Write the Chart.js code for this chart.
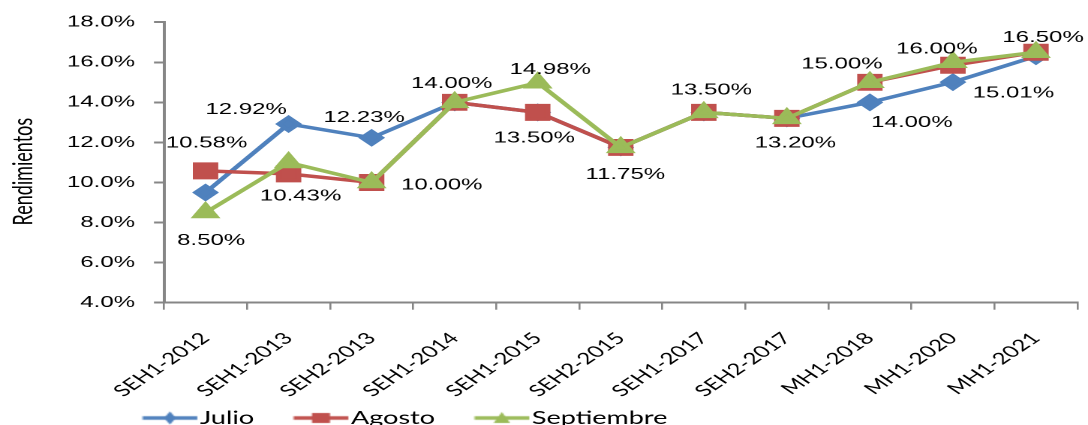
<!DOCTYPE html>
<html>
<head>
<meta charset="utf-8">
<script src="https://cdn.jsdelivr.net/npm/chart.js@4.4.1/dist/chart.umd.min.js"></script>
<style>
  html, body { margin: 0; padding: 0; background: #fff; }
  #chart { display: block; }
</style>
</head>
<body>
<!-- drawn narrow and stretched sideways, like the source picture -->
<canvas id="chart" width="725" height="425" style="width:1088px;height:425px"></canvas>
<script>
var categories = ['SEH1-2012', 'SEH1-2013', 'SEH2-2013', 'SEH1-2014', 'SEH1-2015', 'SEH2-2015',
    'SEH1-2017', 'SEH2-2017', 'MH1-2018', 'MH1-2020', 'MH1-2021'];
var julio = [9.50, 12.92, 12.23, 14.00, 13.50, 11.75, 13.50, 13.20, 14.00, 15.01, 16.30];
var agosto = [10.58, 10.43, 10.00, 14.00, 13.50, 11.75, 13.50, 13.20, 15.00, 15.85, 16.50];
var septiembre = [8.50, 11.00, 10.00, 14.00, 14.98, 11.75, 13.50, 13.20, 15.00, 16.00, 16.50];
var yTicks = [4, 6, 8, 10, 12, 14, 16, 18];

var colors = { julio: '#4F81BD', agosto: '#C0504D', septiembre: '#9BBB59' };
var axisColor = '#868686';

// which point gets a value label, and where it sits relative to the point
var labelSpots = [
    { ds: 1, i: 0, dx: 0.7, dy: -28 }, { ds: 0, i: 1, dx: -28.3, dy: -14.5 },
    { ds: 0, i: 2, dx: -5, dy: -20 }, { ds: 1, i: 1, dx: 8, dy: 22 },
    { ds: 2, i: 0, dx: 3.7, dy: 28 }, { ds: 1, i: 2, dx: 46.7, dy: 2.5 },
    { ds: 2, i: 3, dx: -2, dy: -18.5 }, { ds: 2, i: 4, dx: 8.3, dy: -13 },
    { ds: 1, i: 4, dx: -2.3, dy: 25.5 }, { ds: 2, i: 5, dx: 3, dy: 27 },
    { ds: 2, i: 6, dx: 5, dy: -22.5 }, { ds: 2, i: 7, dx: 5.7, dy: 24.5 },
    { ds: 2, i: 8, dx: -18.7, dy: -18 }, { ds: 0, i: 8, dx: 28, dy: 20.5 },
    { ds: 2, i: 9, dx: -10.7, dy: -13 }, { ds: 0, i: 9, dx: 40.3, dy: 11 },
    { ds: 2, i: 10, dx: 4.7, dy: -14.5 }
];

function legendIcon(color, shape) {
    var c = document.createElement('canvas');
    c.width = 74; c.height = 20;
    var g = c.getContext('2d');
    g.strokeStyle = color; g.fillStyle = color; g.lineWidth = 3.5;
    g.beginPath(); g.moveTo(22.5, 10); g.lineTo(59, 10); g.stroke();
    var cx = 40.75, cy = 10;
    g.beginPath();
    if (shape == 'diamond') {
        g.moveTo(cx, cy - 6.5); g.lineTo(cx + 4, cy); g.lineTo(cx, cy + 6.5); g.lineTo(cx - 4, cy);
    } else if (shape == 'square') {
        g.rect(cx - 6, cy - 5, 12, 10);
    } else {
        g.moveTo(cx, cy - 6); g.lineTo(cx + 5.5, cy + 5); g.lineTo(cx - 5.5, cy + 5);
    }
    g.closePath(); g.fill();
    return c;
}
var icons = [legendIcon(colors.julio, 'diamond'), legendIcon(colors.agosto, 'square'), legendIcon(colors.septiembre, 'triangle')];

var valueLabels = {
    id: 'valueLabels',
    afterDatasetsDraw: function (chart) {
        var ctx = chart.ctx;
        ctx.save();
        ctx.font = '16px "Liberation Sans", Arial, sans-serif';
        ctx.fillStyle = '#000';
        ctx.textAlign = 'center';
        ctx.textBaseline = 'middle';
        labelSpots.forEach(function (s) {
            var pt = chart.getDatasetMeta(s.ds).data[s.i];
            var v = chart.data.datasets[s.ds].data[s.i];
            ctx.fillText(v.toFixed(2) + '%', pt.x + s.dx, pt.y + s.dy);
        });
        ctx.restore();
    }
};

// legend row sits low and to the left, partly below the picture edge
var legendShift = {
    id: 'legendShift',
    afterLayout: function (chart) {
        chart.legend.left = 94.7 - 26;
        chart.legend.top = 383;
    }
};

Chart.defaults.font.family = '"Liberation Sans", Arial, sans-serif';
Chart.defaults.color = '#000';

var chart = new Chart(document.getElementById('chart'), {
    type: 'line',
    data: {
        labels: categories,
        datasets: [
            { label: 'Julio', data: julio, borderColor: colors.julio, backgroundColor: colors.julio,
              pointStyle: 'rectRot', pointRadius: 6.5, borderWidth: 3.5, order: 3 },
            { label: 'Agosto', data: agosto, borderColor: colors.agosto, backgroundColor: colors.agosto,
              pointStyle: 'rect', pointRadius: 9.5, borderWidth: 3.5, order: 2 },
            { label: 'Septiembre', data: septiembre, borderColor: colors.septiembre, backgroundColor: colors.septiembre,
              pointStyle: 'triangle', pointRadius: 8, borderWidth: 3.5, order: 1 }
        ]
    },
    options: {
        responsive: false,
        devicePixelRatio: 2,
        animation: false,
        events: [],
        layout: { padding: { left: 0, right: 7, top: 20.7, bottom: -29 }, autoPadding: false },
        elements: { line: { tension: 0 }, point: { borderWidth: 0 } },
        plugins: {
            tooltip: { enabled: false },
            legend: {
                position: 'bottom',
                align: 'start',
                labels: {
                    usePointStyle: true,
                    pointStyleWidth: 29.5,
                    padding: 26,
                    font: { size: 18, family: 'Lato, sans-serif' },
                    generateLabels: function (chart) {
                        return chart.data.datasets.map(function (d, i) {
                            return { text: d.label, pointStyle: icons[i], datasetIndex: i,
                                     fillStyle: d.borderColor, strokeStyle: d.borderColor, lineWidth: 0 };
                        });
                    }
                }
            }
        },
        scales: {
            x: {
                offset: true,
                grid: { offset: true, drawOnChartArea: false, tickLength: 7, color: axisColor, lineWidth: 1.3 },
                border: { color: axisColor, width: 2 },
                ticks: { minRotation: 45, maxRotation: 45, padding: 19, autoSkip: false,
                         font: { size: 16, family: 'Lato, sans-serif' } },
                afterFit: function (s) { s.height = 97.3; }
            },
            y: {
                min: 4, max: 18,
                afterBuildTicks: function (s) { s.ticks = yTicks.map(function (v) { return { value: v }; }); },
                grid: { drawOnChartArea: false, tickLength: 6.7, color: axisColor, lineWidth: 2 },
                border: { color: axisColor, width: 2 },
                ticks: { padding: 12.6, font: { size: 16 },
                         callback: function (v) { return v.toFixed(1) + '%'; } },
                title: { display: true, text: 'Rendimientos\u00a0\u00a0\u00a0\u00a0', padding: { top: 5, bottom: 0 },
                         font: { size: 18, family: 'Lato, sans-serif' } },
                afterFit: function (s) { s.width = 109.3; }
            }
        }
    },
    plugins: [valueLabels, legendShift]
});
</script>
</body>
</html>
